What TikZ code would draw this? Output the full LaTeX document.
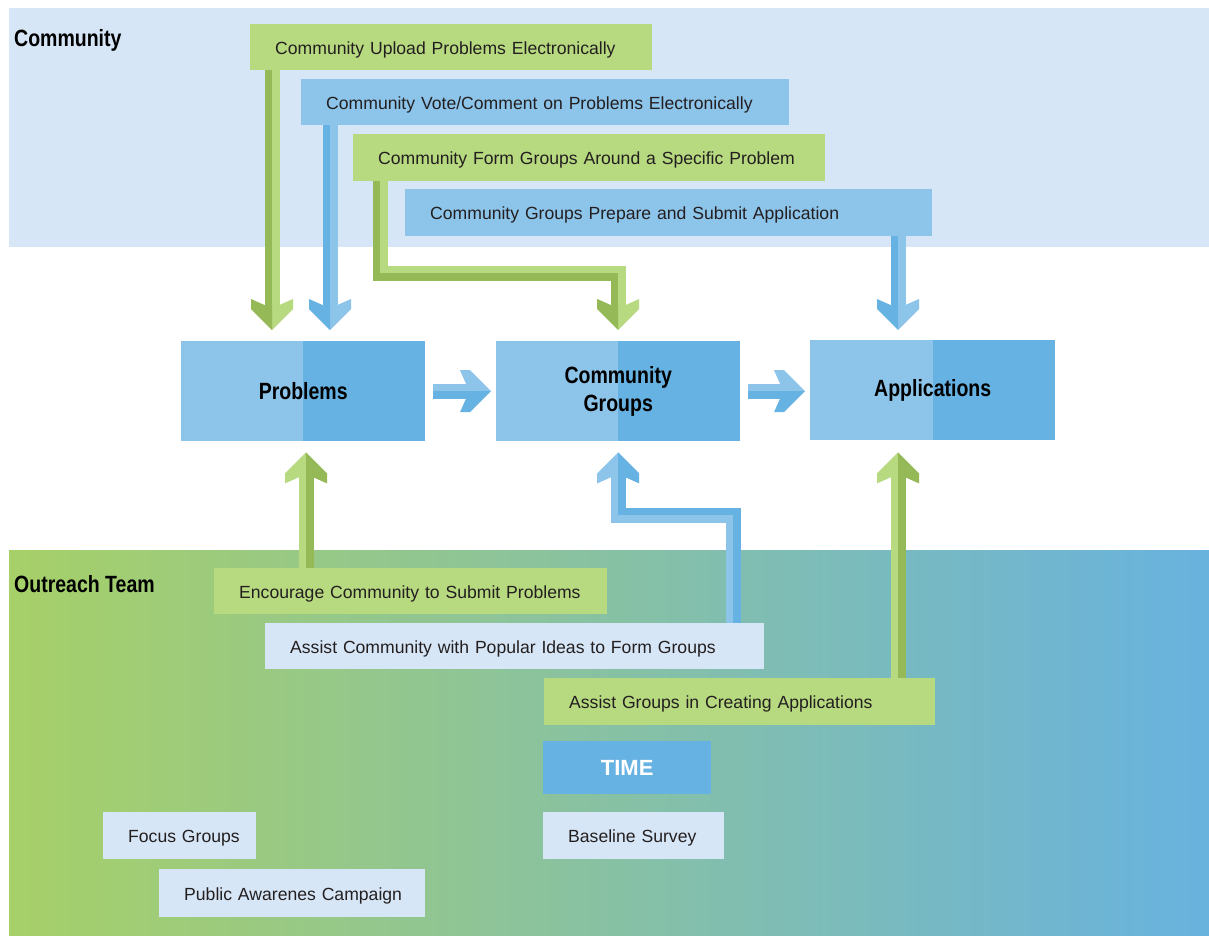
\documentclass[tikz,border=0pt]{standalone}
\usepackage{fontspec}
\setmainfont{Liberation Sans}
\newfontfamily\headfont[FakeStretch=0.83]{Liberation Sans}
\usetikzlibrary{calc}

\definecolor{bandtop}{HTML}{D7E6F6}
\definecolor{grnlt}{HTML}{B7D97F}
\definecolor{grndk}{HTML}{95B957}
\definecolor{blult}{HTML}{8DC4EA}
\definecolor{bludk}{HTML}{66B2E2}
\definecolor{pale}{HTML}{D7E6F6}
\definecolor{gradgrn}{HTML}{A7D068}
\definecolor{gradblu}{HTML}{68B2DF}
\definecolor{txt}{HTML}{231F20}

\pgfdeclarelayer{bands}
\pgfdeclarelayer{shafts}
\pgfsetlayers{bands,shafts,main}

\tikzset{
  box/.style={inner sep=0pt, anchor=north west, minimum height=46pt, text width=#1,
    text height=14pt, text depth=0pt, align=left, execute at begin node={\hspace*{25pt}},
    text=txt, font=\fontsize{17.6}{20}\selectfont},
  mainbox/.style={inner sep=0pt, anchor=north west, minimum width=244pt, minimum height=100pt,
    fill=bludk, align=center, text=black, font=\headfont\bfseries\fontsize{23.5}{28}\selectfont,
    path picture={\fill[blult] (path picture bounding box.south west) rectangle (path picture bounding box.north);}},
  timebox/.style={inner sep=0pt, anchor=north west, minimum width=168pt, minimum height=53pt,
    fill=bludk, text=white, font=\bfseries\fontsize{22}{24}\selectfont},
  team/.style={inner sep=0pt, anchor=west, text=black, font=\headfont\bfseries\fontsize{23.5}{28}\selectfont},
  shaft/.style={line width=7.5pt, draw=#1},
  pics/fathead/.style 2 args={code={
    \fill[#1] (0,0) -- (-21,-21) -- (-31,-21) -- (-25,-7.5) -- (-25,0) -- cycle;
    \fill[#2] (0,0) -- (-21,21) -- (-31,21) -- (-25,7.5) -- (-25,0) -- cycle;}}
}

\begin{document}
\begin{tikzpicture}[x=1pt,y=-1pt]
\useasboundingbox (0,0) rectangle (1209,935);
\begin{pgfonlayer}{bands}
\fill[white] (0,0) rectangle (1209,935);
\fill[bandtop] (9,8) rectangle (1209,247);
\shade[left color=gradgrn, right color=gradblu] (9,550) rectangle (1209,935);
\end{pgfonlayer}
\node[team] (community) at (14,40) {Community};
\node[team] (outreach) at (14,584) {Outreach Team};

% community side
\node[box=402pt, fill=grnlt] (upload) at (250,24) {Community Upload Problems Electronically};
\node[box=488pt, fill=blult] (vote) at (301,79) {Community Vote/Comment on Problems Electronically};
\node[box=472pt, fill=grnlt, minimum height=47pt] (form) at (353,134) {Community Form Groups Around a Specific Problem};
\node[box=527pt, fill=blult, minimum height=47pt] (prepare) at (405,189) {Community Groups Prepare and Submit Application};

% stages
\node[mainbox] (problems) at (181,341) {Problems};
\node[mainbox] (groups) at (496,341) {Community\\Groups};
\node[mainbox, minimum width=245pt] (applications) at (810,340) {Applications};

% outreach side
\node[box=393pt, fill=grnlt] (encourage) at (214,568) {Encourage Community to Submit Problems};
\node[box=499pt, fill=pale] (assistc) at (265,623) {Assist Community with Popular Ideas to Form Groups};
\node[box=391pt, fill=grnlt, minimum height=47pt] (assistg) at (544,678) {Assist Groups in Creating Applications};
\node[timebox] (time) at (543,741) {TIME};
\node[box=181pt, fill=pale, minimum height=47pt] (baseline) at (543,812) {Baseline Survey};
\node[box=153pt, fill=pale, minimum height=47pt] (focus) at (103,812) {Focus Groups};
\node[box=266pt, fill=pale, minimum height=48pt] (public) at (159,869) {Public Awarenes Campaign};

\coordinate (upl) at ($(upload.south west)+(22,0)$);
\coordinate (vot) at ($(vote.south west)+(29,0)$);
\coordinate (frm) at ($(form.south west)+(27,-10)$);
\coordinate (prp) at ($(prepare.south west)+(493,0)$);
\coordinate (enc) at ($(encourage.north west)+(92,0)$);
\coordinate (asc) at ($(assistc.north west)+(468,10)$);
\coordinate (asg) at ($(assistg.north west)+(354,0)$);

\begin{pgfonlayer}{shafts}
% down into the stages
\draw[shaft=grndk, transform canvas={shift={(-3.75pt,0pt)}}, shorten >=30pt] (upl) -- (upl |- problems.north);
\draw[shaft=grnlt, transform canvas={shift={(3.75pt,0pt)}}, shorten >=30pt] (upl) -- (upl |- problems.north);
\draw[shaft=bludk, transform canvas={shift={(-3.75pt,0pt)}}, shorten >=30pt] (vot) -- (vot |- problems.north);
\draw[shaft=blult, transform canvas={shift={(3.75pt,0pt)}}, shorten >=30pt] (vot) -- (vot |- problems.north);
\draw[shaft=grndk, transform canvas={shift={(-3.75pt,-3.75pt)}}, shorten >=30pt] (frm) -- ++(0,102) -| (groups.north);
\draw[shaft=grnlt, transform canvas={shift={(3.75pt,3.75pt)}}, shorten >=30pt] (frm) -- ++(0,102) -| (groups.north);
\draw[shaft=bludk, transform canvas={shift={(-3.75pt,0pt)}}, shorten >=30pt] (prp) -- (prp |- applications.north);
\draw[shaft=blult, transform canvas={shift={(3.75pt,0pt)}}, shorten >=30pt] (prp) -- (prp |- applications.north);
% between the stages
\draw[shaft=bludk, transform canvas={shift={(0pt,-3.75pt)}}, shorten <=8pt, shorten >=27pt] (problems.east) -- (groups.west);
\draw[shaft=blult, transform canvas={shift={(0pt,3.75pt)}}, shorten <=8pt, shorten >=27pt] (problems.east) -- (groups.west);
\draw[shaft=bludk, transform canvas={shift={(0pt,-3.75pt)}}, shorten <=8pt, shorten >=27pt] (groups.east) -- (groups.east -| applications.west);
\draw[shaft=blult, transform canvas={shift={(0pt,3.75pt)}}, shorten <=8pt, shorten >=27pt] (groups.east) -- (groups.east -| applications.west);
% up from the outreach team
\draw[shaft=grndk, transform canvas={shift={(3.75pt,0pt)}}, shorten >=30pt] (enc) -- (enc |- problems.south);
\draw[shaft=grnlt, transform canvas={shift={(-3.75pt,0pt)}}, shorten >=30pt] (enc) -- (enc |- problems.south);
\draw[shaft=bludk, transform canvas={shift={(3.75pt,3.75pt)}}, shorten >=30pt] (asc) -- ++(0,-118) -| (groups.south);
\draw[shaft=blult, transform canvas={shift={(-3.75pt,-3.75pt)}}, shorten >=30pt] (asc) -- ++(0,-118) -| (groups.south);
\draw[shaft=grndk, transform canvas={shift={(3.75pt,0pt)}}, shorten >=30pt] (asg) -- (asg |- applications.south);
\draw[shaft=grnlt, transform canvas={shift={(-3.75pt,0pt)}}, shorten >=30pt] (asg) -- (asg |- applications.south);
\end{pgfonlayer}

% heads
\pic[rotate=-90] at ($(upl |- problems.north)+(0,-11)$) {fathead={grnlt}{grndk}};
\pic[rotate=-90] at ($(vot |- problems.north)+(0,-11)$) {fathead={blult}{bludk}};
\pic[rotate=-90] at ($(groups.north)+(0,-11)$) {fathead={grnlt}{grndk}};
\pic[rotate=-90] at ($(prp |- applications.north)+(0,-10)$) {fathead={blult}{bludk}};
\pic at ($(groups.west)+(-5,0)$) {fathead={blult}{bludk}};
\pic at ($(groups.east -| applications.west)+(-5,0)$) {fathead={blult}{bludk}};
\pic[rotate=90] at ($(enc |- problems.south)+(0,11)$) {fathead={grnlt}{grndk}};
\pic[rotate=90] at ($(groups.south)+(0,11)$) {fathead={blult}{bludk}};
\pic[rotate=90] at ($(asg |- applications.south)+(0,12)$) {fathead={grnlt}{grndk}};
\end{tikzpicture}
\end{document}
